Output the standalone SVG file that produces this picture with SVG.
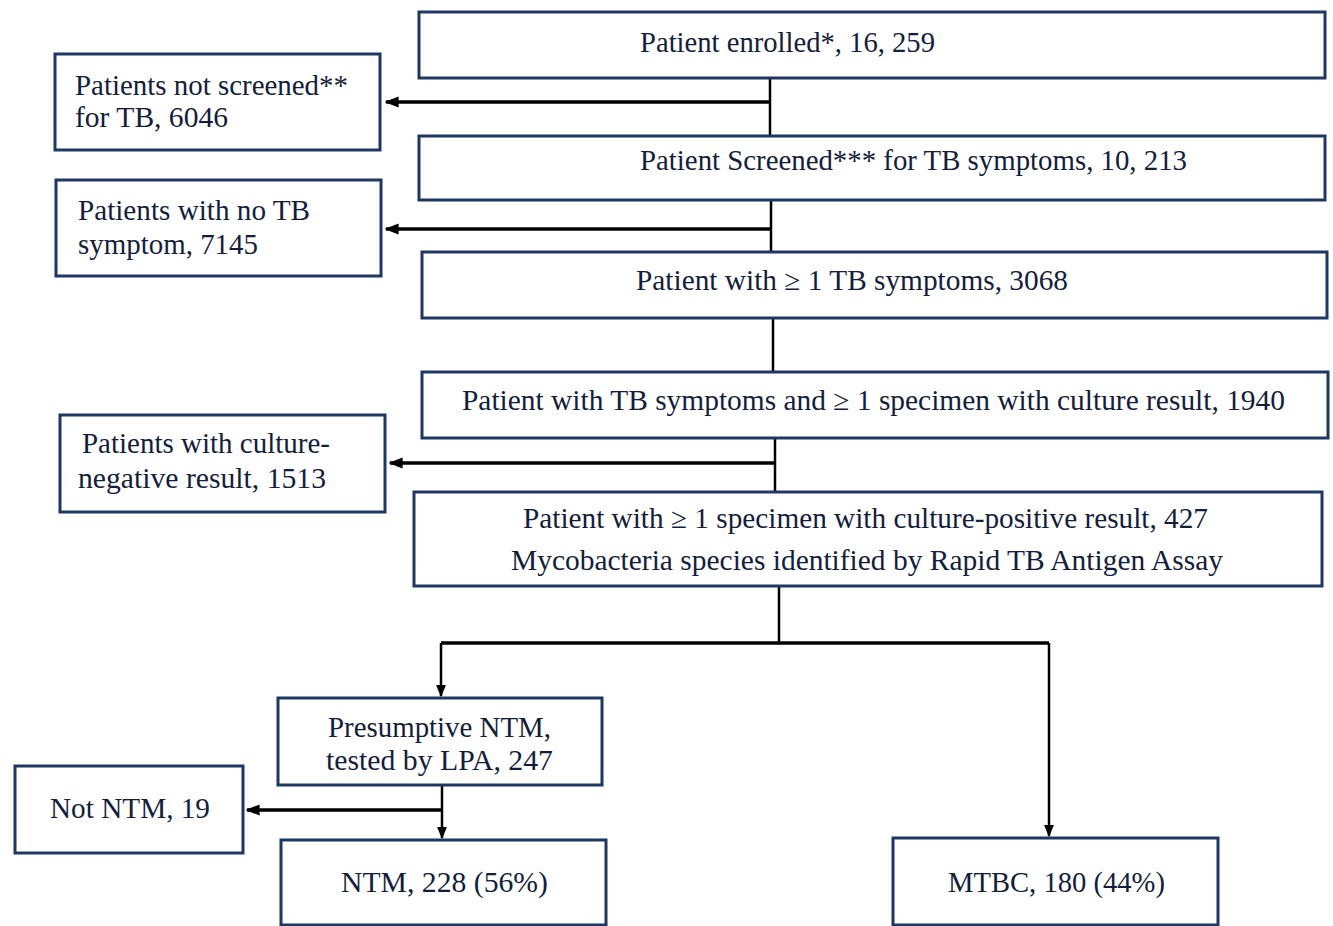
<svg xmlns="http://www.w3.org/2000/svg" width="1333" height="926" viewBox="0 0 1333 926">
<style>
.box{fill:#fff;stroke:#1f3763;stroke-width:3}
.t{font-family:"Liberation Serif","DejaVu Serif",serif;font-size:29px;fill:#141e3c}
.ln{fill:none;stroke:#000;stroke-width:2.5}
.ar{fill:none;stroke:#000;stroke-width:3.5}
</style>
<defs>
<marker id="ah" viewBox="0 0 10 10" refX="9" refY="5" markerWidth="5" markerHeight="5" orient="auto" markerUnits="strokeWidth">
<path d="M0,1 L10,5 L0,9 z" fill="#000"/>
</marker>
<marker id="ah2" viewBox="0 0 10 10" refX="9" refY="5" markerWidth="4" markerHeight="4" orient="auto" markerUnits="strokeWidth">
<path d="M0,1 L10,5 L0,9 z" fill="#000"/>
</marker>
</defs>
<rect width="1333" height="926" fill="#fff"/>
<g id="connectors">
<path class="ln" d="M770,78 V136"/>
<path class="ar" d="M770,102 H386" marker-end="url(#ah2)"/>
<path class="ln" d="M771,200 V252"/>
<path class="ar" d="M771,229 H386" marker-end="url(#ah2)"/>
<path class="ln" d="M773,318 V372"/>
<path class="ln" d="M775,438 V492"/>
<path class="ar" d="M775,463 H390" marker-end="url(#ah2)"/>
<path class="ln" d="M779,586 V643"/>
<path class="ar" d="M441,643 H1049"/>
<path class="ln" d="M441,643 V696" marker-end="url(#ah)"/>
<path class="ln" d="M1049,643 V836" marker-end="url(#ah)"/>
<path class="ln" d="M442,785 V838" marker-end="url(#ah)"/>
<path class="ar" d="M442,810 H247" marker-end="url(#ah2)"/>
</g>
<g id="n1"><rect class="box" x="419" y="12" width="906" height="66"/><text class="t" x="640" y="52" textLength="295" lengthAdjust="spacingAndGlyphs">Patient enrolled*, 16, 259</text></g>
<g id="n2"><rect class="box" x="55" y="54" width="325" height="96"/><text class="t" x="75" y="95" textLength="273" lengthAdjust="spacingAndGlyphs">Patients not screened**</text><text class="t" x="75" y="127" textLength="153" lengthAdjust="spacingAndGlyphs">for TB, 6046</text></g>
<g id="n3"><rect class="box" x="419" y="136" width="906" height="64"/><text class="t" x="640" y="170" textLength="547" lengthAdjust="spacingAndGlyphs">Patient Screened*** for TB symptoms, 10, 213</text></g>
<g id="n4"><rect class="box" x="56" y="180" width="325" height="96"/><text class="t" x="78" y="220" textLength="232" lengthAdjust="spacingAndGlyphs">Patients with no TB</text><text class="t" x="78" y="254" textLength="180" lengthAdjust="spacingAndGlyphs">symptom, 7145</text></g>
<g id="n5"><rect class="box" x="422" y="252" width="905" height="66"/><text class="t" x="636" y="290" textLength="432" lengthAdjust="spacingAndGlyphs">Patient with ≥ 1 TB symptoms, 3068</text></g>
<g id="n6"><rect class="box" x="422" y="372" width="906" height="66"/><text class="t" x="462" y="410" textLength="823" lengthAdjust="spacingAndGlyphs">Patient with TB symptoms and ≥ 1 specimen with culture result, 1940</text></g>
<g id="n7"><rect class="box" x="60" y="415" width="325" height="97"/><text class="t" x="82" y="453" textLength="248" lengthAdjust="spacingAndGlyphs">Patients with culture-</text><text class="t" x="78" y="488" textLength="248" lengthAdjust="spacingAndGlyphs">negative result, 1513</text></g>
<g id="n8"><rect class="box" x="414" y="492" width="908" height="94"/><text class="t" x="523" y="528" textLength="685" lengthAdjust="spacingAndGlyphs">Patient with ≥ 1 specimen with culture-positive result, 427</text><text class="t" x="511" y="570" textLength="712" lengthAdjust="spacingAndGlyphs">Mycobacteria species identified by Rapid TB  Antigen Assay</text></g>
<g id="n9"><rect class="box" x="278" y="698" width="324" height="87"/><text class="t" x="328" y="737" textLength="223" lengthAdjust="spacingAndGlyphs">Presumptive NTM,</text><text class="t" x="326" y="770" textLength="227" lengthAdjust="spacingAndGlyphs">tested by LPA, 247</text></g>
<g id="n10"><rect class="box" x="15" y="766" width="228" height="87"/><text class="t" x="50" y="818" textLength="160" lengthAdjust="spacingAndGlyphs">Not NTM, 19</text></g>
<g id="n11"><rect class="box" x="281" y="840" width="325" height="85"/><text class="t" x="341" y="892" textLength="207" lengthAdjust="spacingAndGlyphs">NTM, 228 (56%)</text></g>
<g id="n12"><rect class="box" x="893" y="838" width="325" height="87"/><text class="t" x="948" y="892" textLength="217" lengthAdjust="spacingAndGlyphs">MTBC, 180 (44%)</text></g>
</svg>
